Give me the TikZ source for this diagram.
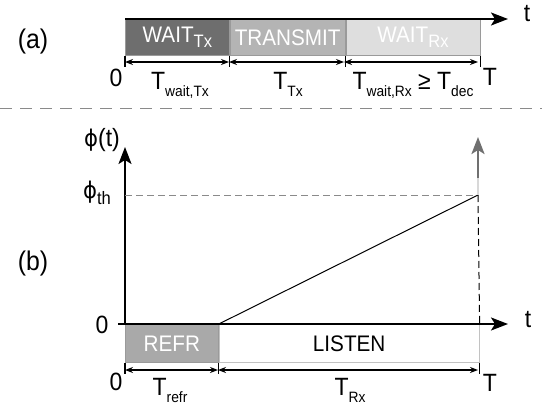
\documentclass[tikz,border=0pt]{standalone}
\usepackage{fontspec}
\setmainfont{Liberation Sans}[FakeStretch=0.92]
\newfontfamily\phifont{DejaVu Sans}[FakeStretch=0.92]
\usetikzlibrary{arrows.meta}

% subscripts: small ones under the time labels, larger ones inside the phase boxes
\newcommand\lowsub[1]{\raisebox{-0.55ex}{\fontsize{15}{15}\selectfont #1}}
\newcommand\boxsub[1]{\raisebox{-0.45ex}{\fontsize{18}{18}\selectfont #1}}
\newcommand\potential{{\phifont\fontsize{23}{23}\selectfont ϕ}}

\definecolor{waittx}{HTML}{6E6E6E}
\definecolor{transmit}{HTML}{B4B4B4}
\definecolor{waitrx}{HTML}{DEDEDE}
\definecolor{refr}{HTML}{A9A9A9}
\definecolor{edge}{HTML}{9A9A9A}
\definecolor{guide}{HTML}{8A8A8A}
\definecolor{growth}{HTML}{707070}
\definecolor{growthlight}{HTML}{D8D8D8}

\begin{document}
\begin{tikzpicture}[x=1pt,y=-1pt,
  lbl/.style={font=\fontsize{25}{25}\selectfont, inner sep=0pt},
  part/.style={font=\fontsize{27}{27}\selectfont, inner sep=0pt},
  phase/.style={draw=edge, line width=0.8pt, inner sep=0pt, anchor=north west,
                minimum height=36pt, text=white, font=\fontsize{22.5}{22.5}\selectfont},
  axis/.style={line width=2pt, -{Stealth[length=17pt,width=13pt,inset=4pt]}},
  span/.style={line width=1.3pt,
               {Stealth[length=8pt,width=6pt]}-{Stealth[length=8pt,width=6pt]}},
  tick/.style={line width=1.3pt},
]
\useasboundingbox (0,0) rectangle (542,410);

% ---------------- (a) transmitter cycle ----------------
\node[part] (la) at (33,42) {(a)};

\node[phase, fill=waittx, minimum width=104pt] (wtx) at (125,19) {WAIT\boxsub{Tx}};
\node[phase, fill=transmit, minimum width=115pt] (tx) at (wtx.north east) {TRANSMIT};
\node[phase, fill=waitrx, minimum width=134pt] (wrx) at (tx.north east) {WAIT\boxsub{Rx}};

\coordinate (taend) at (508,19);
\draw[axis] (wtx.north west) -- (taend);
\node[lbl] (ta) at (527,14) {t};

% boundary ticks and duration arrows
\coordinate (a0) at (125,62);
\coordinate (a1) at (229,62);
\coordinate (a2) at (344,62);
\coordinate (a3) at (478,62);
\draw[tick] (wtx.south west) -- ++(0,11);
\draw[tick] (tx.south west) -- ++(0,11);
\draw[tick] (wrx.south west) -- ++(0,11);
\draw[tick] (wrx.south east) -- ++(0,11);
\draw[span] (a0) -- (a1);
\draw[span] (a1) -- (a2);
\draw[span] (a2) -- (a3);

\node[lbl, anchor=base] (a0l) at (116,86) {0};
\node[lbl, anchor=base] (a1l) at (180,89) {T\lowsub{wait,Tx}};
\node[lbl, anchor=base] (a2l) at (288,89) {T\lowsub{Tx}};
\node[lbl, anchor=base] (a3l) at (413,89) {T\lowsub{wait,Rx} ≥ T\lowsub{dec}};
\node[lbl, anchor=base] (a4l) at (490,85) {T};

% separator
\draw[guide, line width=1pt, dash pattern=on 12pt off 8pt] (0,108) -- (542,108);

% ---------------- (b) receiver cycle ----------------
\node[part] (lb) at (33,264) {(b)};

\node[phase, fill=refr, minimum width=93pt, minimum height=38pt] (rf) at (125,324) {REFR};
\node[phase, draw=edge!60, text=black, minimum width=260pt, minimum height=38pt] (ls) at (rf.north east) {LISTEN};

\coordinate (yorig) at (125,324);
\coordinate (ytop) at (125,147);
\coordinate (tbstart) at (118,324);
\coordinate (tbend) at (508,324);
\draw[axis] (yorig) -- (ytop);
\draw[axis] (tbstart) -- (tbend);
\node[lbl] (tb) at (528,320) {t};

\node[lbl] (phit) at (102,140) {\potential(t)};
\node[lbl] (phith) at (97,193) {\potential\boxsub{th}};
\node[lbl] (zb) at (102,325) {0};

% potential ramp, threshold and firing arrow
\coordinate (thy) at (125,195);
\coordinate (peak) at (478,195);
\coordinate (gmid) at (478,178);
\coordinate (gtop) at (478,137);
\draw[guide, line width=1pt, dash pattern=on 7pt off 4pt] (thy) -- (peak);
\draw[line width=1pt] (rf.north east) -- (peak);
\draw[line width=1pt, dash pattern=on 7pt off 4pt] (peak) -- (ls.north east);
\draw[growthlight, line width=2.2pt] (peak) -- (gmid);
\draw[growth, line width=2.5pt, -{Stealth[length=17pt,width=13pt,inset=4pt]}] (gmid) -- (gtop);

% boundary ticks and duration arrows
\coordinate (b0) at (125,370);
\coordinate (b1) at (218,370);
\coordinate (b2) at (478,370);
\draw[tick] (rf.south west) -- ++(0,11);
\draw[tick] (ls.south west) -- ++(0,11);
\draw[tick] (ls.south east) -- ++(0,11);
\draw[span] (b0) -- (b1);
\draw[span] (b1) -- (b2);

\node[lbl, anchor=base] (b0l) at (116,390) {0};
\node[lbl, anchor=base] (b1l) at (170,395) {T\lowsub{refr}};
\node[lbl, anchor=base] (b2l) at (350,395) {T\lowsub{Rx}};
\node[lbl, anchor=base] (b3l) at (490,391) {T};
\end{tikzpicture}
\end{document}
